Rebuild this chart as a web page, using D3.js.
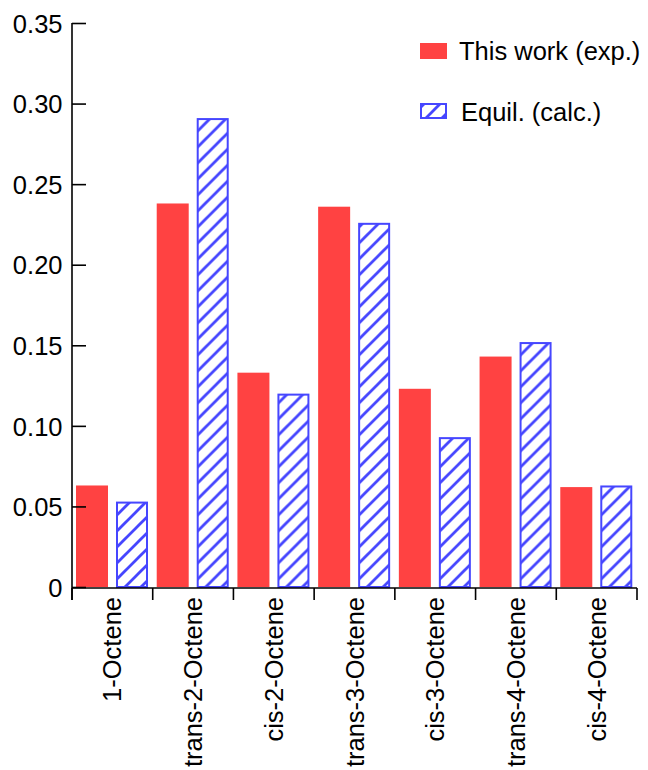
<!DOCTYPE html>
<html>
<head>
<meta charset="utf-8">
<script src="https://cdn.jsdelivr.net/npm/d3@7/dist/d3.min.js"></script>
<style>
  html, body { margin: 0; padding: 0; background: #fff; }
  svg { display: block; font-family: "Liberation Sans", Arial, sans-serif; }
</style>
</head>
<body>
<svg id="chart" width="648" height="770"></svg>
<script>
// Octene isomer distribution: measured vs. equilibrium
const categories = ["1-Octene", "trans-2-Octene", "cis-2-Octene", "trans-3-Octene",
                    "cis-3-Octene", "trans-4-Octene", "cis-4-Octene"];
const expValues   = [0.063, 0.238, 0.133, 0.236, 0.123, 0.143, 0.062];
const calcValues  = [0.053, 0.291, 0.120, 0.226, 0.093, 0.152, 0.063];
const seriesNames = ["This work (exp.)", "Equil. (calc.)"];
const yTicks = [0, 0.05, 0.10, 0.15, 0.20, 0.25, 0.30, 0.35];

const red = "#ff4242";
const blue = "#4646ff";
const fontSize = 25.5;

const svg = d3.select("#chart");
const plotLeft = 72, plotRight = 637, plotTop = 23, plotBottom = 587;

const x = d3.scaleBand().domain(categories).range([plotLeft, plotRight]).padding(0);
const sub = d3.scaleBand().domain(seriesNames).range([4, 76]).paddingInner(0.2);
const y = d3.scaleLinear().domain([0, 0.35]).range([plotBottom, plotTop]);

// diagonal hatch, one "/" stroke per 16px tile
const defs = svg.append("defs");
const pat = defs.append("pattern")
  .attr("id", "hatch")
  .attr("patternUnits", "userSpaceOnUse")
  .attr("width", 16).attr("height", 16);
pat.append("rect").attr("width", 16).attr("height", 16).attr("fill", "#fff");
pat.append("path")
  .attr("d", "M-4,20 L20,-4 M-4,4 L4,-4 M12,20 L20,12")
  .attr("stroke", blue).attr("stroke-width", 2.8).attr("fill", "none");

const groups = svg.append("g").selectAll("g")
  .data(categories.map((c, i) => ({ c, exp: expValues[i], calc: calcValues[i] })))
  .join("g")
  .attr("transform", d => `translate(${x(d.c)},0)`);

groups.append("rect")
  .attr("x", sub(seriesNames[0]))
  .attr("width", sub.bandwidth())
  .attr("y", d => y(d.exp))
  .attr("height", d => y(0) - y(d.exp))
  .attr("fill", red);

groups.append("rect")
  .attr("x", sub(seriesNames[1]) + 1)
  .attr("width", sub.bandwidth() - 2)
  .attr("y", d => y(d.calc) + 1)
  .attr("height", d => y(0) - y(d.calc) - 1)
  .attr("fill", "url(#hatch)")
  .attr("stroke", blue)
  .attr("stroke-width", 2);

// y axis (ticks point inward)
const yAxis = svg.append("g")
  .attr("transform", `translate(${plotLeft},0)`)
  .call(d3.axisRight(y).tickValues(yTicks)
    .tickFormat(d => d === 0 ? "0" : d3.format(".2f")(d))
    .tickSize(14).tickSizeOuter(0));
yAxis.select(".domain").remove();
yAxis.selectAll(".tick line").attr("stroke", "#000").attr("stroke-width", 1.6);
yAxis.selectAll(".tick text")
  .attr("x", -9.5).attr("text-anchor", "end").attr("dy", "0.36em")
  .attr("font-size", fontSize).attr("fill", "#000")
  .attr("font-family", "Liberation Sans, Arial, sans-serif");
yAxis.append("line").attr("x1", 0).attr("x2", 0).attr("y1", plotTop).attr("y2", plotBottom + 13)
  .attr("stroke", "#000").attr("stroke-width", 1.6);

// x axis
const xAxis = svg.append("g").attr("transform", `translate(0,${plotBottom + 1})`);
xAxis.append("line").attr("x1", plotLeft).attr("x2", plotRight).attr("y1", 0).attr("y2", 0)
  .attr("stroke", "#000").attr("stroke-width", 1.6);
const edges = categories.map(c => x(c)).concat([plotRight]);
xAxis.selectAll("line.tk").data(edges).join("line").attr("class", "tk")
  .attr("x1", d => d).attr("x2", d => d).attr("y1", 0).attr("y2", 12)
  .attr("stroke", "#000").attr("stroke-width", 1.6);
xAxis.selectAll("text").data(categories).join("text")
  .attr("transform", d => `translate(${x(d) + x.bandwidth() / 2 + 9},9) rotate(-90)`)
  .attr("text-anchor", "end")
  .attr("font-size", fontSize).attr("fill", "#000")
  .text(d => d);

// legend
const legend = svg.append("g");
legend.append("rect").attr("x", 420).attr("y", 43).attr("width", 27).attr("height", 16).attr("fill", red);
legend.append("text").attr("x", 459).attr("y", 60).attr("font-size", fontSize).text(seriesNames[0]);
legend.append("rect").attr("x", 421).attr("y", 104).attr("width", 25).attr("height", 14)
  .attr("fill", "url(#hatch)").attr("stroke", blue).attr("stroke-width", 2);
legend.append("text").attr("x", 461).attr("y", 121).attr("font-size", fontSize).text(seriesNames[1]);
</script>
</body>
</html>
